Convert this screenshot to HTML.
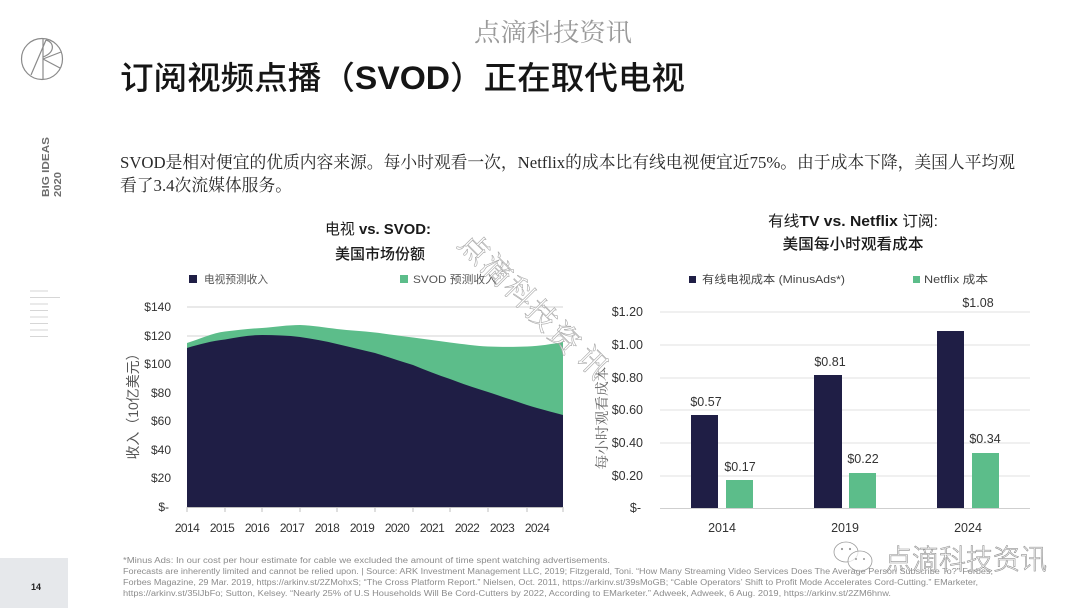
<!DOCTYPE html>
<html>
<head>
<meta charset="utf-8">
<style>
  html,body{margin:0;padding:0;background:#fff;}
  svg{display:block;}
  .sans{font-family:"Liberation Sans","Noto Sans CJK SC",sans-serif;}
  .serif{font-family:"Liberation Serif","Noto Serif CJK SC",serif;}
</style>
</head>
<body>
<svg width="1080" height="608" viewBox="0 0 1080 608" xmlns="http://www.w3.org/2000/svg">
  <rect width="1080" height="608" fill="#ffffff"/>

  <!-- top watermark -->
  <text x="553" y="41" text-anchor="middle" class="serif" font-size="25" fill="#9a9a9a" textLength="158" lengthAdjust="spacingAndGlyphs">点滴科技资讯</text>

  <!-- logo -->
  <g fill="none" stroke="#8a8a8a" stroke-width="1.2">
    <circle cx="42" cy="59" r="20.5"/>
    <line x1="43" y1="39" x2="43" y2="79.5"/>
    <line x1="31" y1="75" x2="46" y2="40"/>
    <path d="M46,40 C54,42 56,52 43,57"/>
    <line x1="43" y1="59" x2="60" y2="68"/>
    <line x1="43" y1="59" x2="61" y2="52"/>
  </g>

  <!-- BIG IDEAS 2020 -->
  <text transform="translate(49,197) rotate(-90)" class="sans" font-size="10" font-weight="bold" fill="#6e6e6e" textLength="60" lengthAdjust="spacingAndGlyphs">BIG IDEAS</text>
  <text transform="translate(61,197) rotate(-90)" class="sans" font-size="10" font-weight="bold" fill="#6e6e6e" textLength="25" lengthAdjust="spacingAndGlyphs">2020</text>

  <!-- side lines -->
  <g stroke="#d6d6d6" stroke-width="1">
    <line x1="30" y1="291" x2="48" y2="291"/>
    <line x1="30" y1="297.5" x2="60" y2="297.5"/>
    <line x1="30" y1="304" x2="48" y2="304"/>
    <line x1="30" y1="310.5" x2="48" y2="310.5"/>
    <line x1="30" y1="317" x2="48" y2="317"/>
    <line x1="30" y1="323.5" x2="48" y2="323.5"/>
    <line x1="30" y1="330" x2="48" y2="330"/>
    <line x1="30" y1="336.5" x2="48" y2="336.5"/>
  </g>

  <!-- title -->
  <text x="120" y="89" class="sans" font-size="32" font-weight="500" fill="#151515" textLength="565" lengthAdjust="spacingAndGlyphs">订阅视频点播（<tspan font-weight="900" font-family="Liberation Sans, sans-serif">SVOD</tspan>）正在取代电视</text>

  <!-- paragraph -->
  <text x="120" y="168" class="serif" font-size="17" fill="#2a2a2a" textLength="895" lengthAdjust="spacingAndGlyphs">SVOD是相对便宜的优质内容来源。每小时观看一次，Netflix的成本比有线电视便宜近75%。由于成本下降，美国人平均观</text>
  <text x="120" y="191" class="serif" font-size="17" fill="#2a2a2a" textLength="172" lengthAdjust="spacingAndGlyphs">看了3.4次流媒体服务。</text>

  <!-- ============ LEFT CHART ============ -->
  <text x="378" y="234" text-anchor="middle" class="sans" font-size="15" fill="#1a1a1a" textLength="106" lengthAdjust="spacingAndGlyphs">电视 <tspan font-weight="900">vs. SVOD:</tspan></text>
  <text x="380" y="259" text-anchor="middle" class="sans" font-size="15" font-weight="500" fill="#1a1a1a" textLength="90" lengthAdjust="spacingAndGlyphs">美国市场份额</text>

  <rect x="189" y="275" width="8" height="8" fill="#1f1e45"/>
  <text x="204" y="283" class="sans" font-size="11" fill="#555" textLength="64" lengthAdjust="spacingAndGlyphs">电视预测收入</text>
  <rect x="400" y="275" width="8" height="8" fill="#5cbd8a"/>
  <text x="413" y="283" class="sans" font-size="11" fill="#555" textLength="84" lengthAdjust="spacingAndGlyphs">SVOD 预测收入</text>

  <g stroke="#dcdcdc" stroke-width="1.2">
    <line x1="187" y1="307" x2="563" y2="307"/>
    <line x1="187" y1="336" x2="563" y2="336"/>
  </g>

  <path d="M187,507 L187,343 C200,339 212,333 225,331.5 C238,330 250,328.5 262,328 C275,327 288,325 300,325 C313,325.5 325,327.5 337,329 C350,330.5 362,331 375,332.5 C388,334 400,336 413,337.5 C425,339 438,341 450,342.5 C463,344 475,346 488,346.5 C500,347 515,347 527,346.5 C540,346 552,344 563,342 L563,507 Z" fill="#5cbd8a"/>
  <path d="M187,507 L187,348 C200,344 212,341 225,339.5 C238,337 250,335 262,335 C275,335 288,335.5 300,337 C313,339 325,341 337,344 C350,347 362,350 375,353 C388,357 400,361 413,365 C425,370 438,375 450,379 C463,384 475,388 488,392 C500,396 515,401 527,405 C540,409 552,412 563,415 L563,507 Z" fill="#1f1e45"/>

  <line x1="187" y1="507.5" x2="563" y2="507.5" stroke="#bfbfbf" stroke-width="1"/>
  <g stroke="#bfbfbf" stroke-width="1">
    <line x1="187" y1="507" x2="187" y2="512"/>
    <line x1="225" y1="507" x2="225" y2="512"/>
    <line x1="262" y1="507" x2="262" y2="512"/>
    <line x1="300" y1="507" x2="300" y2="512"/>
    <line x1="337" y1="507" x2="337" y2="512"/>
    <line x1="375" y1="507" x2="375" y2="512"/>
    <line x1="413" y1="507" x2="413" y2="512"/>
    <line x1="450" y1="507" x2="450" y2="512"/>
    <line x1="488" y1="507" x2="488" y2="512"/>
    <line x1="527" y1="507" x2="527" y2="512"/>
    <line x1="563" y1="507" x2="563" y2="512"/>
  </g>

  <g class="sans" font-size="12" fill="#333" text-anchor="end">
    <text x="171" y="311">$140</text>
    <text x="171" y="340">$120</text>
    <text x="171" y="368">$100</text>
    <text x="171" y="397">$80</text>
    <text x="171" y="425">$60</text>
    <text x="171" y="454">$40</text>
    <text x="171" y="482">$20</text>
    <text x="169" y="511">$-</text>
  </g>

  <g class="sans" font-size="12" fill="#333" text-anchor="middle" letter-spacing="-0.6">
    <text x="187" y="532">2014</text>
    <text x="222" y="532">2015</text>
    <text x="257" y="532">2016</text>
    <text x="292" y="532">2017</text>
    <text x="327" y="532">2018</text>
    <text x="362" y="532">2019</text>
    <text x="397" y="532">2020</text>
    <text x="432" y="532">2021</text>
    <text x="467" y="532">2022</text>
    <text x="502" y="532">2023</text>
    <text x="537" y="532">2024</text>
  </g>

  <text transform="translate(138,403) rotate(-90)" text-anchor="middle" class="sans" font-size="14" fill="#555" textLength="113" lengthAdjust="spacingAndGlyphs">收入（10亿美元）</text>

  <!-- ============ RIGHT CHART ============ -->
  <text x="853" y="226" text-anchor="middle" class="sans" font-size="15" fill="#1a1a1a" textLength="170" lengthAdjust="spacingAndGlyphs">有线<tspan font-weight="900">TV vs. Netflix</tspan> 订阅:</text>
  <text x="853" y="249" text-anchor="middle" class="sans" font-size="15" font-weight="500" fill="#1a1a1a" textLength="141" lengthAdjust="spacingAndGlyphs">美国每小时观看成本</text>

  <rect x="689" y="276" width="7" height="7" fill="#1f1e45"/>
  <text x="702" y="283" class="sans" font-size="11" fill="#444" textLength="143" lengthAdjust="spacingAndGlyphs">有线电视成本 (MinusAds*)</text>
  <rect x="913" y="276" width="7" height="7" fill="#5cbd8a"/>
  <text x="924" y="283" class="sans" font-size="11" fill="#444" textLength="64" lengthAdjust="spacingAndGlyphs">Netflix 成本</text>

  <g stroke="#e0e0e0" stroke-width="1">
    <line x1="660" y1="312" x2="1030" y2="312"/>
    <line x1="660" y1="345" x2="1030" y2="345"/>
    <line x1="660" y1="378" x2="1030" y2="378"/>
    <line x1="660" y1="410" x2="1030" y2="410"/>
    <line x1="660" y1="443" x2="1030" y2="443"/>
    <line x1="660" y1="476" x2="1030" y2="476"/>
  </g>
  <line x1="660" y1="508.5" x2="1030" y2="508.5" stroke="#cfcfcf" stroke-width="1"/>

  <g class="sans" font-size="12.5" fill="#333" text-anchor="end">
    <text x="643" y="316">$1.20</text>
    <text x="643" y="349">$1.00</text>
    <text x="643" y="382">$0.80</text>
    <text x="643" y="414">$0.60</text>
    <text x="643" y="447">$0.40</text>
    <text x="643" y="480">$0.20</text>
    <text x="641" y="512">$-</text>
  </g>

  <text transform="translate(607,418) rotate(-90)" text-anchor="middle" class="serif" font-size="14" fill="#666" textLength="103" lengthAdjust="spacingAndGlyphs">每小时观看成本</text>

  <!-- bars -->
  <rect x="691" y="415" width="27" height="93" fill="#1f1e45"/>
  <rect x="726" y="480" width="27" height="28" fill="#5cbd8a"/>
  <rect x="814" y="375" width="28" height="133" fill="#1f1e45"/>
  <rect x="849" y="473" width="27" height="35" fill="#5cbd8a"/>
  <rect x="937" y="331" width="27" height="177" fill="#1f1e45"/>
  <rect x="972" y="453" width="27" height="55" fill="#5cbd8a"/>

  <g class="sans" font-size="12.5" fill="#333" text-anchor="middle">
    <text x="706" y="406">$0.57</text>
    <text x="740" y="471">$0.17</text>
    <text x="830" y="366">$0.81</text>
    <text x="863" y="463">$0.22</text>
    <text x="978" y="307">$1.08</text>
    <text x="985" y="443">$0.34</text>
  </g>

  <g class="sans" font-size="12.5" fill="#333" text-anchor="middle">
    <text x="722" y="532">2014</text>
    <text x="845" y="532">2019</text>
    <text x="968" y="532">2024</text>
  </g>

  <!-- diagonal watermark -->
  <g class="serif" font-size="30" fill="#ffffff" fill-opacity="0.7" stroke="#a8a8a8" stroke-width="0.6" text-anchor="middle">
    <text transform="translate(475,248) rotate(45)" dy="11">点</text>
    <text transform="translate(497,270) rotate(45)" dy="11">滴</text>
    <text transform="translate(520,292) rotate(45)" dy="11">科</text>
    <text transform="translate(542,315) rotate(45)" dy="11">技</text>
    <text transform="translate(565,338) rotate(45)" dy="11">资</text>
    <text transform="translate(593,362) rotate(45)" dy="11">讯</text>
  </g>

  <!-- footer -->
  <rect x="0" y="558" width="68" height="50" fill="#e6e8eb"/>
  <text x="36" y="590" text-anchor="middle" class="sans" font-size="9" font-weight="bold" fill="#222">14</text>

  <g class="sans" font-size="8" fill="#8c8c8c">
    <text x="123" y="563" textLength="487" lengthAdjust="spacingAndGlyphs">*Minus Ads: In our cost per hour estimate for cable we excluded the amount of time spent watching advertisements.</text>
    <text x="123" y="574" textLength="870" lengthAdjust="spacingAndGlyphs">Forecasts are inherently limited and cannot be relied upon.  |  Source: ARK Investment Management LLC, 2019; Fitzgerald, Toni. “How Many Streaming Video Services Does The Average Person Subscribe To?” Forbes,</text>
    <text x="123" y="585" textLength="855" lengthAdjust="spacingAndGlyphs">Forbes Magazine, 29 Mar. 2019, https://arkinv.st/2ZMohxS; “The Cross Platform Report.” Nielsen, Oct. 2011, https://arkinv.st/39sMoGB; “Cable Operators’ Shift to Profit Mode Accelerates Cord-Cutting.” EMarketer,</text>
    <text x="123" y="596" textLength="768" lengthAdjust="spacingAndGlyphs">https://arkinv.st/35lJbFo; Sutton, Kelsey. “Nearly 25% of U.S Households Will Be Cord-Cutters by 2022, According to EMarketer.” Adweek, Adweek, 6 Aug. 2019, https://arkinv.st/2ZM6hnw.</text>
  </g>

  <!-- bottom-right wechat watermark -->
  <g fill="#ffffff" fill-opacity="0.7" stroke="#9a9a9a" stroke-width="0.8">
    <ellipse cx="846" cy="552" rx="12" ry="10"/>
    <ellipse cx="860" cy="561" rx="12" ry="10"/>
  </g>
  <g fill="#9a9a9a">
    <circle cx="842" cy="549" r="1.1"/>
    <circle cx="850" cy="549" r="1.1"/>
    <circle cx="856" cy="559" r="1"/>
    <circle cx="864" cy="559" r="1"/>
  </g>
  <text x="885" y="569" class="sans" font-size="28" font-weight="300" fill="#ffffff" fill-opacity="0.75" stroke="#8f8f8f" stroke-width="0.6" textLength="162" lengthAdjust="spacingAndGlyphs">点滴科技资讯</text>
</svg>
</body>
</html>
